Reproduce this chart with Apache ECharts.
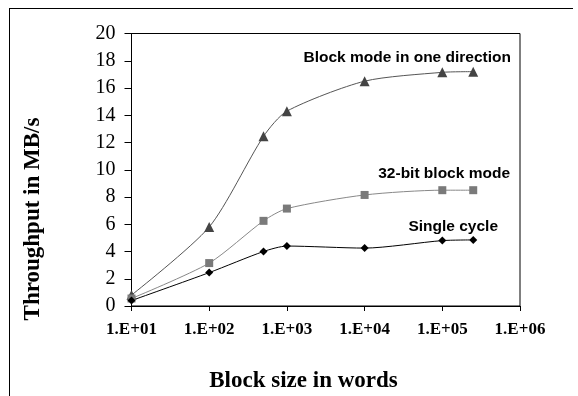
<!DOCTYPE html>
<html>
<head>
<meta charset="utf-8">
<script src="https://cdn.jsdelivr.net/npm/echarts@6/dist/echarts.min.js"></script>
<style>
html,body{margin:0;padding:0;background:#fff;}
#c{width:578px;height:396px;}
</style>
</head>
<body>
<div id="c"></div>
<script>
// Data
const blockSizes = [10, 100, 500, 1000, 10000, 100000, 250000];
const oneDirection = [0.8, 5.8, 12.45, 14.3, 16.5, 17.15, 17.2];
const block32 = [0.55, 3.15, 6.25, 7.15, 8.15, 8.5, 8.5];
const singleCycle = [0.4, 2.45, 4.0, 4.4, 4.25, 4.8, 4.85];
const xTickLabels = ['1.E+01', '1.E+02', '1.E+03', '1.E+04', '1.E+05', '1.E+06'];
const seriesNames = ['Block mode in one direction', '32-bit block mode', 'Single cycle'];

const chart = echarts.init(document.getElementById('c'), null, {renderer: 'canvas'});
const pts = arr => blockSizes.map((x, i) => [x, arr[i]]);

const serif = '"Liberation Serif", "Times New Roman", serif';
const sans = '"Liberation Sans", Arial, sans-serif';

chart.setOption({
  animation: false,
  backgroundColor: '#fff',
  grid: {left: 131.5, top: 33.5, right: 58, bottom: 90, show: true, borderColor: '#000', borderWidth: 1},
  xAxis: {
    type: 'log', logBase: 10, min: 10, max: 1000000,
    axisLine: {lineStyle: {color: '#000', width: 1}},
    axisTick: {show: true, length: 5, lineStyle: {color: '#000'}},
    minorTick: {show: false},
    splitLine: {show: false},
    axisLabel: {
      color: '#000', fontFamily: serif, fontWeight: 'bold', fontSize: 17, margin: 15,
      formatter: v => xTickLabels[Math.round(Math.log10(v)) - 1]
    }
  },
  yAxis: {
    type: 'value', min: 0, max: 20, interval: 2,
    axisLine: {show: true, lineStyle: {color: '#000', width: 1}},
    axisTick: {show: true, length: 7, lineStyle: {color: '#000'}},
    splitLine: {show: false},
    axisLabel: {color: '#000', fontFamily: serif, fontSize: 20, margin: 16}
  },
  series: [
    {
      name: seriesNames[0], type: 'line', data: pts(oneDirection), smooth: 0.25,
      symbol: 'triangle', symbolSize: 10,
      lineStyle: {color: '#555', width: 1},
      itemStyle: {color: '#444'}
    },
    {
      name: seriesNames[1], type: 'line', data: pts(block32), smooth: 0.25,
      symbol: 'rect', symbolSize: 8,
      lineStyle: {color: '#888', width: 1},
      itemStyle: {color: '#7a7a7a'}
    },
    {
      name: seriesNames[2], type: 'line', data: pts(singleCycle), smooth: 0.25,
      symbol: 'diamond', symbolSize: 8,
      lineStyle: {color: '#000', width: 1},
      itemStyle: {color: '#000'}
    }
  ],
  graphic: [
    {type: 'line', shape: {x1: 9, y1: 8.5, x2: 573, y2: 8.5}, style: {stroke: '#000', lineWidth: 1}},
    {type: 'line', shape: {x1: 9.5, y1: 8, x2: 9.5, y2: 396}, style: {stroke: '#000', lineWidth: 1}},
    {type: 'text', x: 511, y: 58, style: {text: seriesNames[0], fill: '#000', font: 'bold 15.5px ' + sans, textAlign: 'right', textVerticalAlign: 'middle'}},
    {type: 'text', x: 510, y: 174, style: {text: seriesNames[1], fill: '#000', font: 'bold 15.5px ' + sans, textAlign: 'right', textVerticalAlign: 'middle'}},
    {type: 'text', x: 498, y: 227, style: {text: seriesNames[2], fill: '#000', font: 'bold 15.5px ' + sans, textAlign: 'right', textVerticalAlign: 'middle'}},
    {type: 'text', x: 303.5, y: 381, style: {text: 'Block size in words', fill: '#000', font: 'bold 23px ' + serif, textAlign: 'center', textVerticalAlign: 'middle'}},
    {type: 'text', x: 33, y: 219, rotation: Math.PI / 2, style: {text: 'Throughput in MB/s', fill: '#000', font: 'bold 23px ' + serif, textAlign: 'center', textVerticalAlign: 'middle'}}
  ]
});
</script>
</body>
</html>
